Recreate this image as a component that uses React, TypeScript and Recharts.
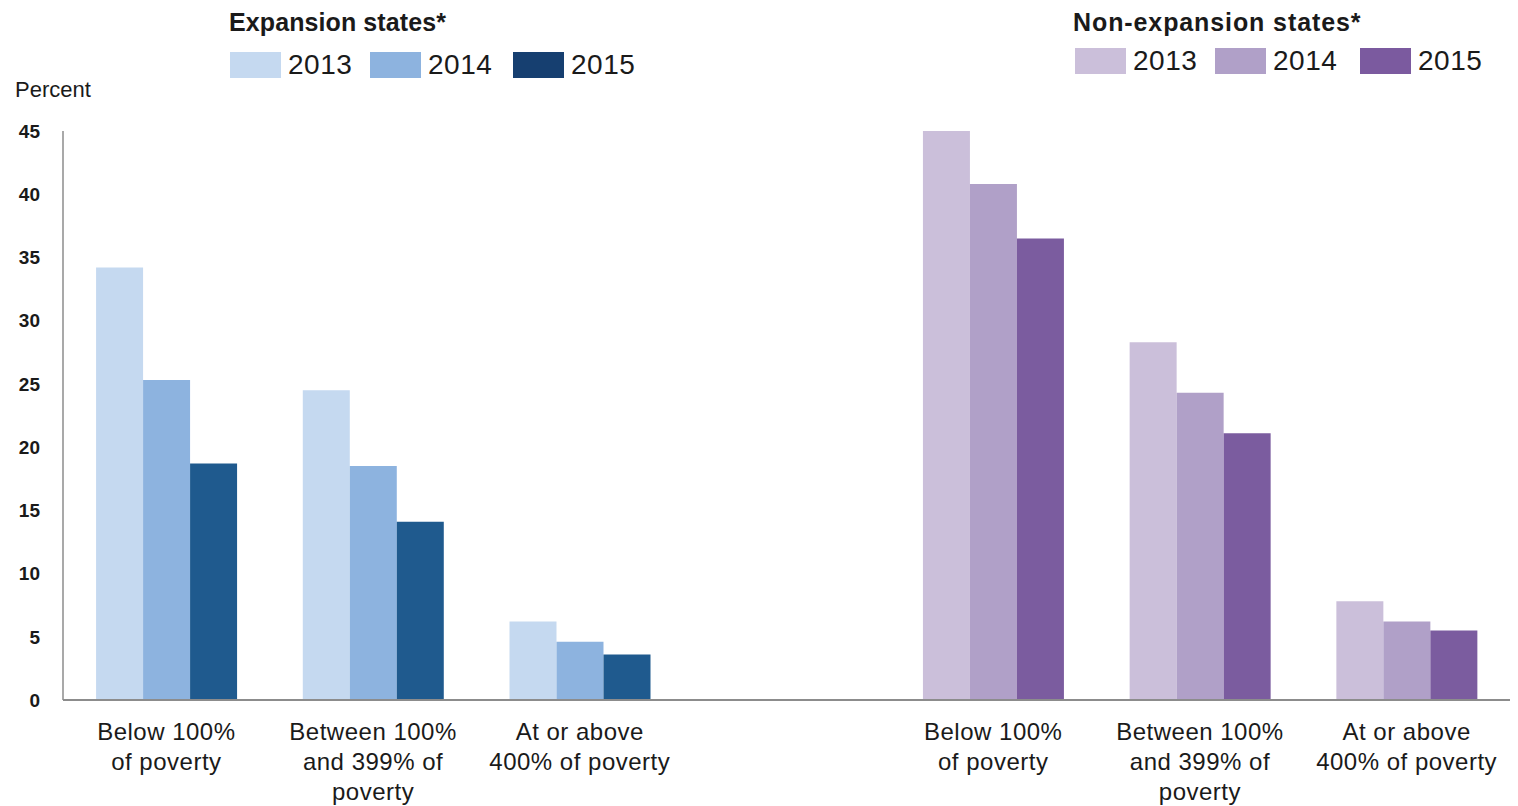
import { BarChart, Bar, XAxis, YAxis, Cell } from 'recharts'

// categories: expansion states, an empty spacer slot, then non-expansion states
const groups = ['expansion', 'expansion', 'expansion', 'spacer', 'nonExpansion', 'nonExpansion', 'nonExpansion']
const categoryLines = [
  ['Below 100%', 'of poverty'],
  ['Between 100%', 'and 399% of', 'poverty'],
  ['At or above', '400% of poverty'],
  [],
  ['Below 100%', 'of poverty'],
  ['Between 100%', 'and 399% of', 'poverty'],
  ['At or above', '400% of poverty'],
]
const values2013 = [34.2, 24.5, 6.2, null, 45.0, 28.3, 7.8]
const values2014 = [25.3, 18.5, 4.6, null, 40.8, 24.3, 6.2]
const values2015 = [18.7, 14.1, 3.6, null, 36.5, 21.1, 5.5]
const years = ['2013', '2014', '2015']
const yTicks = [0, 5, 10, 15, 20, 25, 30, 35, 40, 45]

const barColors: Record<string, string[]> = {
  expansion: ['#C5D9F0', '#8DB3DF', '#1F5A8E'],
  nonExpansion: ['#CBBFDA', '#B0A0C8', '#7B5C9F'],
  spacer: ['#fff', '#fff', '#fff'],
}
const legendColors: Record<string, string[]> = {
  expansion: ['#C5D9F0', '#8DB3DF', '#163F70'],
  nonExpansion: ['#CBBFDA', '#B0A0C8', '#7B5A9F'],
}

const data = categoryLines.map((lines, i) => ({
  key: 'c' + i,
  y2013: values2013[i],
  y2014: values2014[i],
  y2015: values2015[i],
}))

const font = 'Arial, "Liberation Sans", sans-serif'

function CategoryTick(props: any) {
  const { x, y, payload } = props
  const lines = categoryLines[payload.index] || []
  return (
    <text x={x} y={y} textAnchor="middle" fill="#1a1a1a" fontSize={24} fontFamily={font} letterSpacing={0.5}>
      {lines.map((l, i) => (
        <tspan key={i} x={x} dy={i === 0 ? 32 : 30}>{l}</tspan>
      ))}
    </text>
  )
}

function LegendGroup({ left, top, title, colors, swatchX, rowTop, titleSpacing }: { left: number; top: number; title: string; colors: string[]; swatchX: number[]; rowTop: number; titleSpacing: number }) {
  return (
    <div style={{ position: 'absolute', left, top, fontFamily: font, color: '#1a1a1a' }}>
      <div style={{ fontSize: 25, fontWeight: 'bold', whiteSpace: 'nowrap', lineHeight: '30px', letterSpacing: titleSpacing }}>{title}</div>
      {years.map((yr, i) => (
        <div key={yr} style={{ position: 'absolute', left: swatchX[i], top: rowTop, display: 'flex', alignItems: 'center' }}>
          <div style={{ width: 51, height: 26, background: colors[i] }} />
          <span style={{ fontSize: 28, marginLeft: 7, lineHeight: '26px', letterSpacing: 0.5 }}>{yr}</span>
        </div>
      ))}
    </div>
  )
}

function Overlay() {
  return (
    <div style={{ position: 'absolute', left: 0, top: 0, width: 1518, height: 110, pointerEvents: 'none' }}>
      <LegendGroup left={229} top={7} title="Expansion states*" colors={legendColors.expansion} swatchX={[1, 141, 284]} rowTop={45} titleSpacing={0.1} />
      <LegendGroup left={1073} top={7} title="Non-expansion states*" colors={legendColors.nonExpansion} swatchX={[2, 142, 287]} rowTop={41} titleSpacing={0.9} />
      <div style={{ position: 'absolute', left: 15, top: 77, fontSize: 22, fontFamily: font, color: '#1a1a1a' }}>Percent</div>
    </div>
  )
}

export default function App() {
  const keys = ['y2013', 'y2014', 'y2015']
  return (
    <div style={{ position: 'absolute', left: 0, top: 0, width: 1518, height: 806, background: '#fff' }}>
      <BarChart
        width={1518}
        height={806}
        data={data}
        margin={{ top: 131, right: 8, bottom: 0, left: 0 }}
        barCategoryGap="16%"
        barGap={0}
      >
        <XAxis
          dataKey="key"
          axisLine={{ stroke: '#8c8c8c', strokeWidth: 2 }}
          tickLine={false}
          tick={<CategoryTick />}
          interval={0}
          height={106}
        />
        <YAxis
          domain={[0, 45]}
          ticks={yTicks}
          width={63}
          axisLine={{ stroke: '#8c8c8c', strokeWidth: 1.5 }}
          tickLine={false}
          tickSize={0}
          tickMargin={23}
          tick={{ fill: '#1a1a1a', fontSize: 19, fontWeight: 'bold', fontFamily: font }}
        />
        {keys.map((k, si) => (
          <Bar key={k} dataKey={k} isAnimationActive={false}>
            {data.map((d, i) => (
              <Cell key={d.key} fill={barColors[groups[i]][si]} />
            ))}
          </Bar>
        ))}
      </BarChart>
      <Overlay />
    </div>
  )
}
